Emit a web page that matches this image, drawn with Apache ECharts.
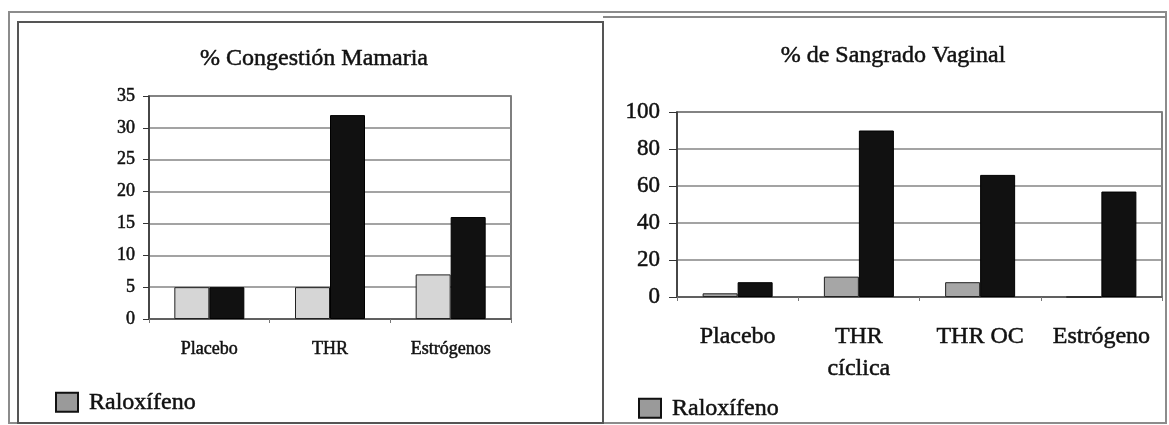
<!DOCTYPE html>
<html lang="es">
<head>
  <meta charset="UTF-8">
  <script src="https://cdn.jsdelivr.net/npm/echarts@6/dist/echarts.min.js"></script>
  <style>
    html, body { margin: 0; padding: 0; background: #fff; }
    #main { width: 1169px; height: 425px; }
  </style>
  <title>Raloxífeno</title>
</head>
<body>
  <div id="main"></div>
  <script type="text/javascript">
    // datos del gráfico izquierdo
    var congestionCats = ['Placebo', 'THR', 'Estrógenos'];
    var congestionRalox = [5, 5, 7];
    var congestionComp = [5, 32, 16];
    var congestionTicks = [0, 5, 10, 15, 20, 25, 30, 35];

    // datos del gráfico derecho
    var sangradoCats = ['Placebo', 'THR\ncíclica', 'THR OC', 'Estrógeno'];
    var sangradoRalox = [2, 11, 8, 0];
    var sangradoComp = [8, 90, 66, 57];
    var sangradoTicks = [0, 20, 40, 60, 80, 100];

    var serif = 'Liberation Serif';
    var ink = '#111';
    // trazo fino para que el texto se vea tan cargado como el escaneo
    var heavy = { textBorderColor: '#111', textBorderWidth: 0.5 };

    var myChart = echarts.init(document.getElementById('main'));

    function yAxisFor(idx, ticks, size, margin, tickLen) {
      return {
        gridIndex: idx,
        type: 'value',
        min: ticks[0],
        max: ticks[ticks.length - 1],
        interval: ticks[1] - ticks[0],
        axisLine: { show: true, lineStyle: { color: '#333', width: 1.5 } },
        axisTick: { show: true, length: tickLen, lineStyle: { color: '#333' } },
        axisLabel: Object.assign({ fontFamily: serif, fontSize: size, color: ink, margin: margin }, heavy),
        splitLine: { show: true, lineStyle: { color: '#858585', width: 1.5 } }
      };
    }

    function xAxisFor(idx, cats, size, margin, lh) {
      return {
        gridIndex: idx,
        type: 'category',
        data: cats,
        axisLine: { show: true, lineStyle: { color: '#555', width: 1.5 } },
        axisTick: { show: true, length: 4, lineStyle: { color: '#777' } },
        axisLabel: Object.assign({ fontFamily: serif, fontSize: size, color: ink, margin: margin, lineHeight: lh, interval: 0 }, heavy)
      };
    }

    function legendAt(x, y) {
      return {
        data: ['Raloxífeno'],
        left: x, top: y,
        itemWidth: 22, itemHeight: 19,
        icon: 'rect',
        itemStyle: { color: '#9a9a9a', borderColor: '#111', borderWidth: 2 },
        textStyle: Object.assign({ fontFamily: serif, fontSize: 24, color: ink, padding: [0, 0, 0, 6] }, heavy)
      };
    }

    var option = {
      animation: false,
      title: [
        {
          text: '% Congestión Mamaria',
          left: 309, top: 42, textAlign: 'center',
          textStyle: Object.assign({ fontFamily: serif, fontSize: 24, fontWeight: 'normal', color: ink }, heavy)
        },
        {
          text: '% de Sangrado Vaginal',
          left: 888, top: 39, textAlign: 'center',
          textStyle: Object.assign({ fontFamily: serif, fontSize: 24, fontWeight: 'normal', color: ink }, heavy)
        }
      ],
      legend: [legendAt(50, 385), legendAt(633, 391)],
      grid: [
        { left: 149, right: 658, top: 96, bottom: 106, show: true, borderColor: '#555', borderWidth: 1.5 },
        { left: 677, right: 7, top: 112, bottom: 128, show: true, borderColor: '#555', borderWidth: 1.5 }
      ],
      xAxis: [
        xAxisFor(0, congestionCats, 18, 20, 20),
        xAxisFor(1, sangradoCats, 24, 24, 32)
      ],
      yAxis: [
        yAxisFor(0, congestionTicks, 18, 14, 6),
        yAxisFor(1, sangradoTicks, 23, 17, 8)
      ],
      series: [
        {
          name: 'Raloxífeno', type: 'bar', xAxisIndex: 0, yAxisIndex: 0,
          data: congestionRalox, barWidth: 35, barGap: '0%',
          itemStyle: { color: '#d6d6d6', borderColor: '#222', borderWidth: 1 }
        },
        {
          name: 'Comparador', type: 'bar', xAxisIndex: 0, yAxisIndex: 0,
          data: congestionComp, barWidth: 35, barGap: '0%',
          itemStyle: { color: '#111', borderColor: '#000', borderWidth: 1 }
        },
        {
          name: 'Raloxífeno', type: 'bar', xAxisIndex: 1, yAxisIndex: 1,
          data: sangradoRalox, barWidth: 35, barGap: '0%',
          itemStyle: { color: '#a6a6a6', borderColor: '#222', borderWidth: 1 }
        },
        {
          name: 'Comparador', type: 'bar', xAxisIndex: 1, yAxisIndex: 1,
          data: sangradoComp, barWidth: 35, barGap: '0%',
          itemStyle: { color: '#111', borderColor: '#000', borderWidth: 1 }
        }
      ],
      // marcos de los paneles
      graphic: [
        { type: 'rect', shape: { x: 9, y: 12, width: 1157, height: 411 }, style: { fill: 'none', stroke: '#8c8c8c', lineWidth: 2 }, silent: true },
        { type: 'rect', shape: { x: 18, y: 22, width: 585, height: 401 }, style: { fill: 'none', stroke: '#555', lineWidth: 2 }, silent: true },
        { type: 'line', shape: { x1: 603, y1: 17, x2: 1166, y2: 17 }, style: { stroke: '#888', lineWidth: 2 }, silent: true }
      ]
    };

    myChart.setOption(option);
  </script>
</body>
</html>
